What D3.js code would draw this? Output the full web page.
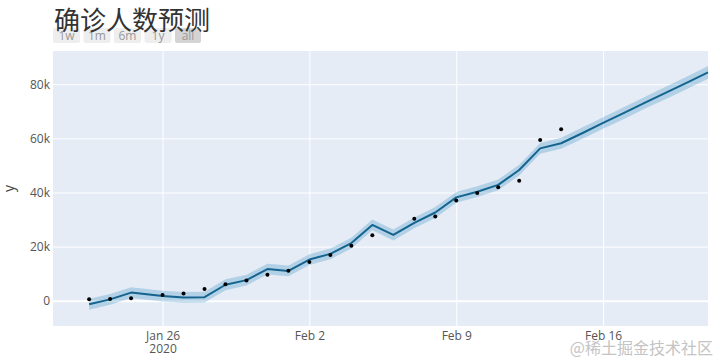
<!DOCTYPE html>
<html>
<head>
<meta charset="utf-8">
<title>确诊人数预测</title>
<script src="https://d3js.org/d3.v7.min.js"></script>
<style>
  body { margin: 0; background: #fff; }
  text { font-family: "Open Sans", "DejaVu Sans", sans-serif; }
</style>
</head>
<body>
<svg width="720" height="361"></svg>
<script>

// observed points (ds, y)
var actualDates = ["2020-01-22T12:00", "2020-01-23T12:00", "2020-01-24T12:00",
  "2020-01-26", "2020-01-27", "2020-01-28", "2020-01-29", "2020-01-30", "2020-01-31",
  "2020-02-01", "2020-02-02", "2020-02-03", "2020-02-04", "2020-02-05",
  "2020-02-07", "2020-02-08", "2020-02-09", "2020-02-10", "2020-02-11",
  "2020-02-12", "2020-02-13", "2020-02-14"];
var actualValues = [550, 600, 950,
  2100, 2700, 4300, 6100, 7500, 9600,
  11100, 14300, 16900, 20300, 24200,
  30300, 31100, 37000, 39800, 41900,
  44300, 59400, 63400];

// forecast (ds, yhat, yhat_lower, yhat_upper)
var forecastDates = ["2020-01-22T12:00", "2020-01-23T12:00", "2020-01-24T12:00",
  "2020-01-26", "2020-01-27", "2020-01-28", "2020-01-29", "2020-01-30", "2020-01-31",
  "2020-02-01", "2020-02-02", "2020-02-03", "2020-02-04", "2020-02-05", "2020-02-06",
  "2020-02-07", "2020-02-08", "2020-02-09", "2020-02-10", "2020-02-11", "2020-02-12",
  "2020-02-13", "2020-02-14", "2020-02-15", "2020-02-16", "2020-02-17", "2020-02-18",
  "2020-02-19", "2020-02-20", "2020-02-21"];
var yhat = [-1300, 500, 3000,
  1700, 1200, 1300, 5900, 7600, 11700,
  11000, 15200, 17300, 21300, 28000, 24300,
  28800, 32600, 38200, 40300, 42800, 48300,
  56300, 58200, 61900, 65700, 69400, 73200,
  76900, 80600, 84400];
var yhatLower = [-3300, -1500, 1000,
  -300, -800, -700, 3900, 5600, 9700,
  9000, 13200, 15300, 19300, 26000, 22300,
  26800, 30600, 36200, 38300, 40800, 46300,
  54300, 56200, 59800, 63600, 67200, 71000,
  74600, 78300, 82000];
var yhatUpper = [700, 2500, 5000,
  3700, 3200, 3300, 7900, 9600, 13700,
  13000, 17200, 19300, 23300, 30000, 26300,
  30800, 34600, 40200, 42300, 44800, 50300,
  58300, 60200, 64000, 67800, 71600, 75400,
  79200, 82900, 86800];

var xTicks = ["2020-01-26", "2020-02-02", "2020-02-09", "2020-02-16"];
var yTicks = [0, 20000, 40000, 60000, 80000];
var buttons = ["1w", "1m", "6m", "1y", "all"];

var parse = function(s) { return new Date(s); };

var svg = d3.select("svg"),
    margin = {top: 51, right: 12, bottom: 35, left: 53},
    width = +svg.attr("width") - margin.left - margin.right,
    height = +svg.attr("height") - margin.top - margin.bottom;

var x = d3.scaleTime()
    .domain([new Date(2020, 0, 20, 18, 40), new Date(2020, 1, 21)])
    .range([0, width]);

var y = d3.scaleLinear()
    .domain([-9350, 92300])
    .range([height, 0]);

var g = svg.append("g")
    .attr("transform", "translate(" + margin.left + "," + margin.top + ")");

g.append("rect")
    .attr("width", width)
    .attr("height", height)
    .attr("fill", "#e5ecf6");

// grid + tick labels
var fmtDate = d3.timeFormat("%b %-d");

var xAxis = g.append("g")
    .attr("transform", "translate(0," + height + ")")
    .call(d3.axisBottom(x)
      .tickValues(xTicks.map(parse))
      .tickSize(-height)
      .tickPadding(5)
      .tickFormat(fmtDate));

xAxis.selectAll(".tick text")
    .each(function(d, i) {
      if (i === 0) {
        d3.select(this).append("tspan")
          .attr("x", 0)
          .attr("dy", "1.15em")
          .text("2020");
      }
    });

var yAxis = g.append("g")
    .call(d3.axisLeft(y)
      .tickValues(yTicks)
      .tickSize(-width)
      .tickPadding(3)
      .tickFormat(function(d) { return d === 0 ? "0" : d / 1000 + "k"; }));

svg.selectAll(".domain").remove();
svg.selectAll(".tick line")
    .attr("stroke", "#fff")
    .attr("stroke-width", 1);
yAxis.selectAll(".tick line")
    .attr("stroke-width", function(d) { return d === 0 ? 2 : 1; });
svg.selectAll(".tick text")
    .attr("fill", "#555")
    .style("font-size", "12px");

// uncertainty band
var forecast = forecastDates.map(function(d, i) {
  return {ds: parse(d), yhat: yhat[i], lo: yhatLower[i], hi: yhatUpper[i]};
});

g.append("path")
    .datum(forecast)
    .attr("fill", "rgba(0, 114, 178, 0.22)")
    .attr("d", d3.area()
      .x(function(d) { return x(d.ds); })
      .y0(function(d) { return y(d.lo); })
      .y1(function(d) { return y(d.hi); }));

g.append("path")
    .datum(forecast)
    .attr("fill", "none")
    .attr("stroke", "#15648f")
    .attr("stroke-width", 2)
    .attr("stroke-linejoin", "round")
    .attr("d", d3.line()
      .x(function(d) { return x(d.ds); })
      .y(function(d) { return y(d.yhat); }));

g.selectAll(".dot")
    .data(actualDates.map(function(d, i) { return {ds: parse(d), y: actualValues[i]}; }))
    .enter().append("circle")
      .attr("class", "dot")
      .attr("cx", function(d) { return x(d.ds); })
      .attr("cy", function(d) { return y(d.y); })
      .attr("r", 2)
      .attr("fill", "#000");

// y axis title
svg.append("text")
    .attr("transform", "translate(14," + (margin.top + height / 2) + ") rotate(-90)")
    .attr("text-anchor", "middle")
    .attr("fill", "#444")
    .style("font-size", "14px")
    .text("y");

// range selector
var bx = 53;
buttons.forEach(function(b, i) {
  var w = b === "all" ? 26 : 27;
  var bg = svg.append("g").attr("transform", "translate(" + bx + ",28)");
  bg.append("rect")
      .attr("width", w)
      .attr("height", 15)
      .attr("rx", 2)
      .attr("fill", b === "all" ? "#d4d4d4" : "#eee");
  bg.append("text")
      .attr("x", w / 2)
      .attr("y", 11.5)
      .attr("text-anchor", "middle")
      .attr("fill", "#999")
      .style("font-size", "12px")
      .text(b);
  bx += w + 3.5;
});

// title
svg.append("text")
    .attr("x", 54)
    .attr("y", 30)
    .attr("fill", "#333")
    .style("font-family", "'Noto Sans CJK SC', sans-serif")
    .style("font-size", "26px")
    .text("确诊人数预测");

// watermark
svg.append("text")
    .attr("x", 713)
    .attr("y", 354)
    .attr("text-anchor", "end")
    .attr("fill", "#c4c4c4")
    .style("font-family", "'Noto Sans CJK SC', sans-serif")
    .style("font-size", "16px")
    .text("@稀土掘金技术社区");

</script>
</body>
</html>
